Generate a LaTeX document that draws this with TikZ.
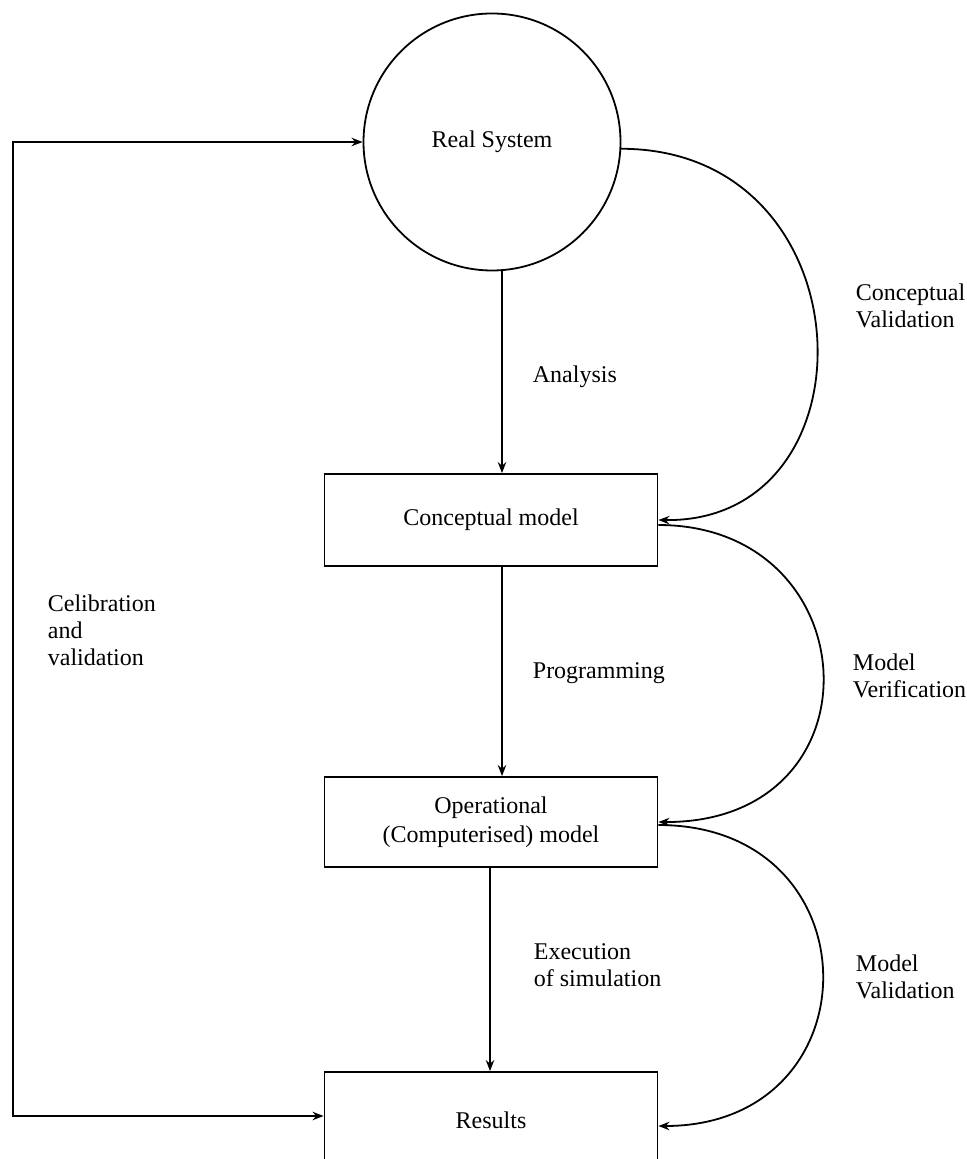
\documentclass[tikz,border=0pt]{standalone}
\usepackage{fontspec}
\setmainfont{Liberation Serif}
\usetikzlibrary{arrows.meta}

\begin{document}
\begin{tikzpicture}[x=0.5pt, y=-0.5pt,
    font=\fontsize{12}{13.5}\selectfont,
    line width=0.9pt,
    box/.style={draw, rectangle, minimum width=166.5pt, inner sep=2pt},
    lbl/.style={anchor=west, align=left, inner sep=0pt},
    arr/.style={-{Stealth[length=5.5pt,width=4.2pt]}},
    arrboth/.style={{Stealth[length=5.5pt,width=4.2pt]}-{Stealth[length=5.5pt,width=4.2pt]}}]

    % 1. Frame
    \useasboundingbox (0,0) rectangle (966,1159);

    % 2. System, models and results
    \node[draw, circle, minimum size=128.5pt, inner sep=0pt] (real) at (492,142) {Real System};
    \node[box, minimum height=46pt] (concept) at (491,520) {Conceptual model};
    \node[box, minimum height=45pt, align=center] (oper) at (491,822) {Operational\\[1pt](Computerised) model};
    \node[box, minimum height=48pt] (results) at (491,1120) {Results};

    % 3. Main flow downwards
    \draw[arr] ([xshift=5pt]real.south) -- ([xshift=5pt]real.south |- concept.north);
    \draw[arr] ([xshift=5.5pt]concept.south) -- ([xshift=5.5pt]concept.south |- oper.north);
    \draw[arr] ([xshift=-0.5pt]oper.south) -- ([xshift=-0.5pt]oper.south |- results.north);

    % 4. Calibration loop on the left
    \coordinate (ltop) at (13,142);
    \coordinate (lbot) at (13,1116);
    \draw[arrboth] (real.west) -- (ltop) -- (lbot) -- (lbot -| results.west);

    % 5. Verification and validation arcs on the right
    \draw[arr] (real.-3) .. controls (870,149) and (880,523) .. (concept.east);
    \draw[arr] ([yshift=-2.5pt]concept.east) .. controls (870,525) and (885,823) .. (oper.east);
    \draw[arr] ([yshift=-1.5pt]oper.east) .. controls (877,825) and (877,1126) .. ([yshift=-3pt]results.east);

    % 6. Labels
    \node[lbl] (analysis) at (532,377) {Analysis};
    \node[lbl] (programming) at (532,673) {Programming};
    \node[lbl] (execution) at (533,965) {Execution\\of simulation};
    \node[lbl] (cval) at (855,306) {Conceptual\\Validation};
    \node[lbl] (mver) at (852,676) {Model\\Verification};
    \node[lbl] (mval) at (855,977) {Model\\Validation};
    \node[lbl] (calib) at (47,630) {Celibration\\and\\validation};

\end{tikzpicture}
\end{document}
